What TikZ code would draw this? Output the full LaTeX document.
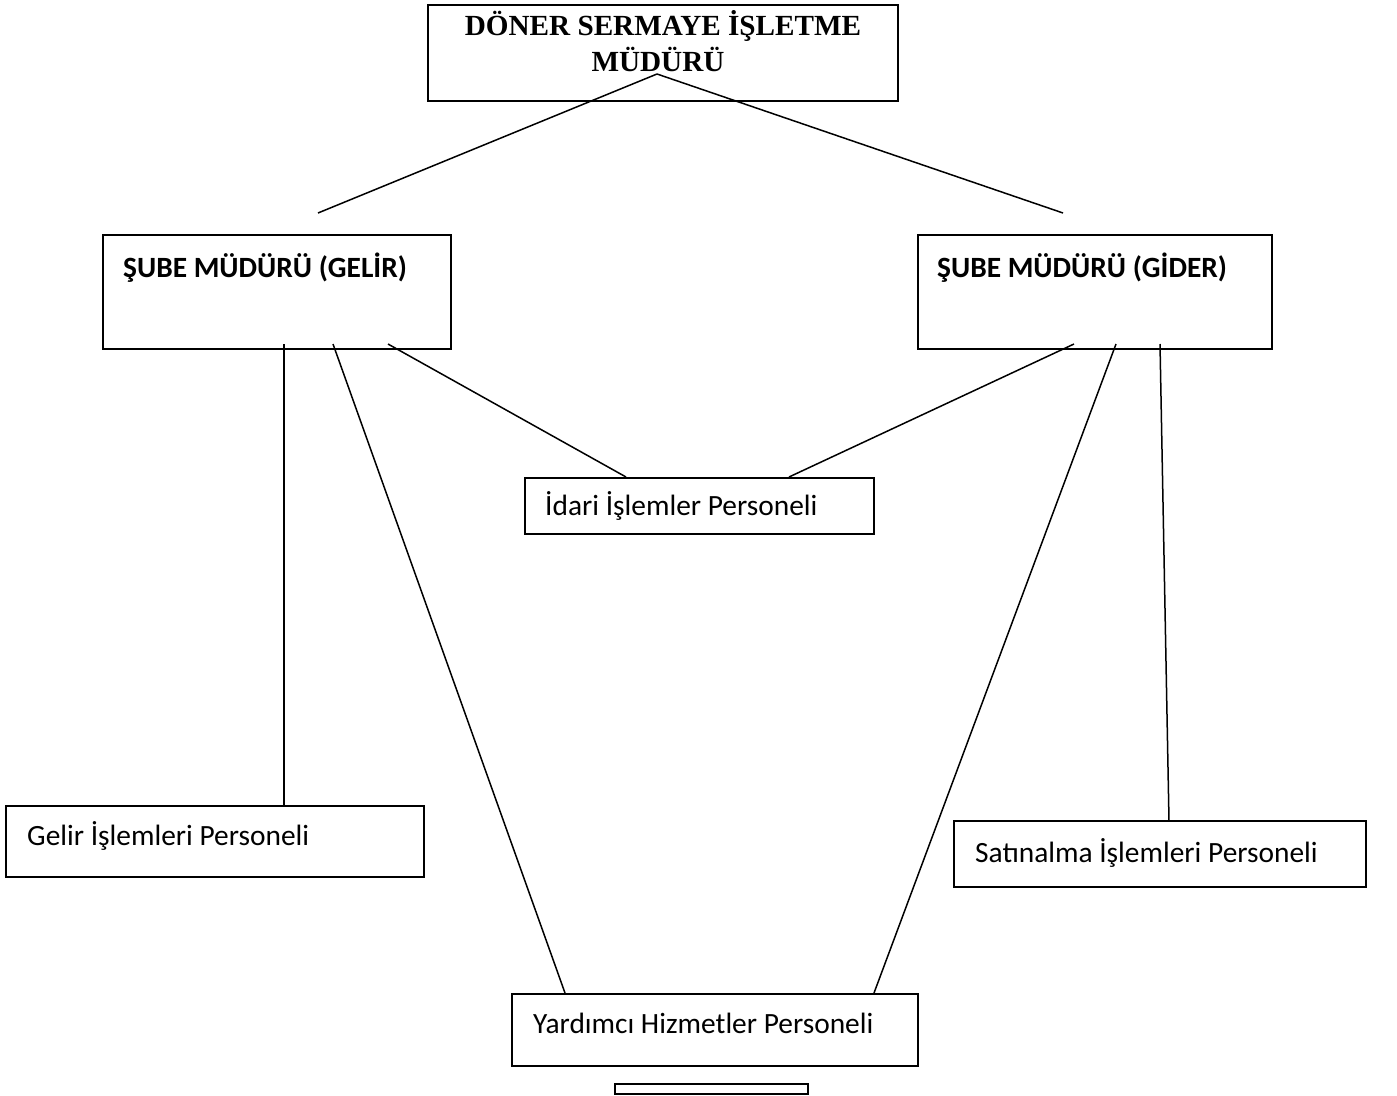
\documentclass[tikz,border=0pt]{standalone}
\usepackage{fontspec}
\setmainfont{Liberation Serif}
\newfontfamily\calfont{Carlito}
\begin{document}
\begin{tikzpicture}[x=1pt,y=-1pt,
  box/.style={draw=black, line width=1.8pt, fill=none},
  conn/.style={draw=black, line width=1.5pt},
  lbl/.style={anchor=base west, inner sep=0pt, font=\calfont\fontsize{29.4}{35}\selectfont},
  blbl/.style={lbl, font=\calfont\bfseries\fontsize{29.4}{35}\selectfont},
  ttl/.style={anchor=base, inner sep=0pt, font=\bfseries\fontsize{29.2}{36}\selectfont}]
\useasboundingbox (0,0) rectangle (1397,1095);
% boxes
\draw[box] (428,5) rectangle (898,101);
\coordinate (top) at (657,74);
\node[ttl] (t1) at (663,35) {DÖNER SERMAYE İŞLETME};
\node[ttl] (t2) at (658,71) {MÜDÜRÜ};

\draw[box] (103,235) rectangle (451,349);
\node[blbl] (gelir) at (123,277) {ŞUBE MÜDÜRÜ (GELİR)};
\draw[box] (918,235) rectangle (1272,349);
\node[blbl] (gider) at (937,277) {ŞUBE MÜDÜRÜ (GİDER)};

\draw[box] (525,478) rectangle (874,534);
\node[lbl] (idari) at (545,515) {İdari İşlemler Personeli};

\draw[box] (6,806) rectangle (424,877);
\node[lbl] (gelirp) at (27,845) {Gelir İşlemleri Personeli};

\draw[box] (954,821) rectangle (1366,887);
\node[lbl] (satin) at (975,862) {Satınalma İşlemleri Personeli};

\draw[box] (512,994) rectangle (918,1066);
\node[lbl] (yard) at (533,1033) {Yardımcı Hizmetler Personeli};

\draw[draw=black, line width=1.6pt] (615,1084) rectangle (808,1094);

% connector end points
\coordinate (a1) at (318,213);
\coordinate (a2) at (1063,213);
\coordinate (g1) at (284,344);
\coordinate (g2) at (333,344);
\coordinate (g3) at (388,344);
\coordinate (d1) at (1074,344);
\coordinate (d2) at (1116,344);
\coordinate (d3) at (1160,344);
\coordinate (e1) at (284,806);
\coordinate (e2) at (565,993);
\coordinate (e3) at (626,477);
\coordinate (e4) at (789,477);
\coordinate (e5) at (874,993);
\coordinate (e6) at (1169,821);

\draw[conn] (top) -- (a1);
\draw[conn] (top) -- (a2);
\draw[conn] (g1) -- (e1);
\draw[conn] (g2) -- (e2);
\draw[conn] (g3) -- (e3);
\draw[conn] (d1) -- (e4);
\draw[conn] (d2) -- (e5);
\draw[conn] (d3) -- (e6);
\end{tikzpicture}
\end{document}
